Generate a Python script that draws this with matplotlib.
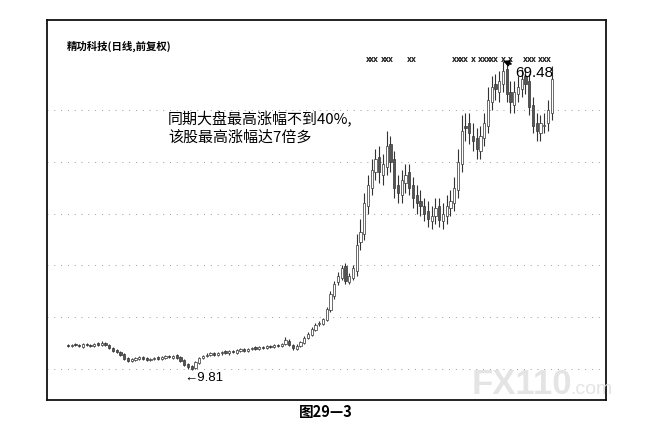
import matplotlib
matplotlib.use("Agg")
import matplotlib.pyplot as plt
import matplotlib.transforms as mtransforms
import numpy as np

# ---------------- data ----------------
opens = [
    14.7, 14.4, 14.8, 14.7, 14.3, 14.9, 14.7, 14.4, 15.0, 14.6,
    15.0, 14.6, 14.1, 13.6, 13.3, 12.9, 12.2, 11.5, 11.8, 12.0,
    12.4, 12.1, 11.7, 11.9, 12.3, 11.9, 12.2, 12.6, 12.2, 12.7,
    12.3, 11.7, 10.9, 10.5, 10.2, 11.2, 12.1, 12.5, 12.7, 13.1,
    12.7, 13.0, 13.4, 13.0, 13.5, 13.1, 13.5, 13.9, 13.4, 13.8,
    14.2, 13.8, 14.3, 14.0, 14.5, 14.2, 14.7, 14.4, 14.8, 15.5,
    14.7, 13.9, 14.4, 15.1, 15.9, 16.6, 17.6, 18.7, 18.7, 19.4,
    21.3, 24.0, 26.8, 27.5, 29.8, 26.8, 27.6, 29.0, 34.5, 36.0,
    41.5, 45.0, 48.0, 51.0, 47.5, 49.0, 53.5, 50.5, 45.5, 43.5,
    46.0, 48.0, 45.5, 43.5, 42.5, 41.5, 40.5, 38.5, 39.5, 41.5,
    38.5, 39.5, 41.0, 42.0, 44.5, 49.5, 57.0, 57.5, 55.0, 54.5,
    52.0, 54.5, 57.0, 61.5, 65.0, 63.5, 65.0, 68.0, 63.5, 61.0,
    63.0, 64.0, 66.5, 65.5, 61.0, 57.5, 55.5, 57.0, 57.5, 59.5]
highs = [
    14.9, 14.9, 15.0, 14.9, 15.0, 15.1, 14.9, 15.1, 15.2, 15.4,
    15.2, 14.8, 14.3, 13.8, 13.5, 13.1, 12.4, 12.1, 12.3, 12.5,
    12.6, 12.3, 12.2, 12.4, 12.5, 12.5, 12.7, 12.8, 12.8, 12.9,
    12.5, 11.9, 11.1, 10.7, 11.6, 12.4, 12.8, 13.0, 13.2, 13.3,
    13.3, 13.5, 13.6, 13.6, 13.7, 13.8, 14.0, 14.1, 14.1, 14.3,
    14.4, 14.4, 14.5, 14.6, 14.7, 14.8, 14.9, 15.1, 16.2, 15.7,
    14.9, 14.8, 15.4, 16.3, 17.1, 18.1, 18.8, 19.3, 19.9, 22.0,
    25.0, 27.0, 28.8, 30.0, 30.5, 28.6, 30.0, 36.0, 39.0, 44.0,
    47.5, 50.5, 52.5, 53.0, 51.5, 56.0, 55.0, 52.0, 47.5, 48.5,
    49.5, 49.5, 47.0, 45.5, 44.5, 43.0, 42.5, 41.5, 43.0, 43.0,
    42.0, 43.5, 44.5, 47.0, 52.5, 59.0, 59.5, 59.5, 57.5, 56.5,
    57.0, 59.5, 64.5, 66.5, 67.0, 67.5, 69.48, 69.0, 65.5, 65.5,
    66.5, 68.0, 68.0, 67.0, 62.5, 59.5, 59.0, 59.5, 62.0, 68.5]
lows = [
    14.3, 14.2, 14.4, 14.2, 14.1, 14.4, 14.3, 14.2, 14.5, 14.4,
    14.4, 13.8, 13.3, 13.0, 12.6, 11.8, 11.3, 11.3, 11.6, 11.8,
    11.8, 11.6, 11.5, 11.7, 11.8, 11.7, 12.0, 12.1, 12.0, 12.0,
    11.4, 10.6, 10.1, 9.81, 10.0, 11.0, 11.9, 12.3, 12.5, 12.6,
    12.5, 12.8, 12.9, 12.8, 13.0, 12.9, 13.3, 13.3, 13.2, 13.6,
    13.7, 13.6, 13.9, 13.8, 14.1, 14.0, 14.3, 14.2, 14.6, 14.4,
    13.6, 13.7, 14.2, 14.9, 15.7, 16.4, 17.4, 18.4, 18.5, 19.2,
    21.0, 23.6, 26.3, 27.2, 26.4, 26.5, 27.2, 28.0, 33.0, 35.0,
    40.0, 43.5, 46.5, 46.0, 45.5, 47.5, 48.0, 43.0, 42.0, 42.0,
    44.0, 43.5, 41.0, 40.0, 39.5, 38.5, 37.5, 37.0, 38.0, 37.5,
    37.0, 38.0, 39.5, 40.5, 43.0, 48.0, 54.0, 53.5, 52.0, 50.5,
    50.5, 53.0, 55.5, 60.0, 62.0, 61.5, 63.5, 61.5, 59.5, 59.5,
    61.5, 62.5, 63.0, 59.0, 55.5, 54.0, 54.0, 55.5, 56.0, 58.0]
closes = [
    14.5, 14.7, 14.6, 14.4, 14.8, 14.6, 14.5, 14.9, 14.7, 15.1,
    14.6, 14.0, 13.5, 13.2, 12.8, 12.0, 11.6, 11.9, 12.1, 12.3,
    12.0, 11.8, 12.0, 12.2, 12.0, 12.3, 12.5, 12.3, 12.6, 12.2,
    11.6, 10.8, 10.3, 10.1, 11.3, 12.2, 12.6, 12.8, 13.0, 12.8,
    13.1, 13.3, 13.1, 13.4, 13.2, 13.6, 13.8, 13.5, 13.9, 14.1,
    13.9, 14.2, 14.1, 14.4, 14.3, 14.6, 14.5, 14.9, 15.6, 14.6,
    14.0, 14.5, 15.2, 16.0, 16.8, 17.8, 18.5, 18.9, 19.6, 21.5,
    24.5, 26.5, 28.0, 29.5, 27.0, 28.0, 29.5, 34.0, 36.5, 42.0,
    45.5, 48.5, 50.5, 48.0, 49.5, 53.0, 50.0, 45.0, 44.0, 46.5,
    47.5, 45.0, 43.0, 42.0, 41.5, 40.0, 39.0, 39.5, 41.0, 38.8,
    40.0, 41.5, 42.5, 45.0, 50.0, 56.0, 56.5, 55.5, 54.0, 52.5,
    55.0, 57.5, 62.0, 64.5, 64.0, 65.5, 67.5, 63.0, 61.5, 63.5,
    64.5, 66.0, 65.0, 60.5, 57.0, 56.0, 57.5, 57.0, 60.0, 66.0]

grid_levels = [10, 20, 30, 40, 50, 60]
marker_days = [80, 81, 82, 84, 85, 86, 91, 92, 103, 104, 105, 106, 108,
               110, 111, 112, 113, 114, 116, 118, 122, 123, 124, 126, 127, 128]
high_label = "69.48"
low_label = "←9.81"
title = "精功科技(日线,前复权)"
note_lines = ["同期大盘最高涨幅不到40%,", "该股最高涨幅达7倍多"]
caption = "图29—3"

# ---------------- figure ----------------
W, H = 652, 432
fig = plt.figure(figsize=(W / 100, H / 100), dpi=100)
fig.patch.set_facecolor("white")
ax = fig.add_axes([47 / W, (H - 400) / H, (606 - 47) / W, 380 / H])
ax.set_xlim(-5.6, 143.5)
ax.set_ylim(4.02, 77.37)
ax.set_xticks([])
ax.set_yticks([])
for s in ax.spines.values():
    s.set_linewidth(1.3)
    s.set_color("#111111")

# dotted grid
for g in grid_levels:
    ax.axhline(g, color="#999999", lw=0.7, ls=(0, (1, 6)), zorder=0)

x = np.arange(len(closes))
o = np.array(opens); c = np.array(closes)
h = np.array(highs); l = np.array(lows)
up = c >= o
ax.vlines(x, l, h, color="#333333", lw=0.8, zorder=2)
body = np.where(np.abs(c - o) < 0.05, 0.05, c - o)
ax.bar(x[up], body[up], bottom=o[up], width=0.6, facecolor="white",
       edgecolor="#333333", linewidth=0.5, zorder=3)
ax.bar(x[~up], body[~up], bottom=o[~up], width=0.6, facecolor="#555555",
       edgecolor="#333333", linewidth=0.5, zorder=3)

# info markers along the top
trans = mtransforms.blended_transform_factory(ax.transData, ax.transAxes)
for d in marker_days:
    ax.text(d, 0.895, "x", transform=trans, ha="center", va="center",
            fontsize=5.5, fontweight="bold", color="#222222")

narrow = ["Liberation Sans Narrow", "Liberation Sans", "DejaVu Sans"]

# high / low labels
imax = int(np.argmax(h))
ax.annotate(high_label, xy=(imax, h[imax]), xytext=(imax + 3.2, h[imax] - 2.3),
            fontsize=11, family=narrow, ha="left", va="center",
            arrowprops=dict(arrowstyle="-|>", lw=1.4, color="black",
                            mutation_scale=8, shrinkA=1, shrinkB=0))
imin = int(np.argmin(l))
ax.text(imin - 2.0, l[imin] - 1.5, low_label, fontsize=9.5, family=narrow,
        ha="left", va="center")

# texts
fig.text(67 / W, 1 - 46 / H, title, fontsize=7.5, fontweight="bold",
         family=["Noto Sans CJK SC", "DejaVu Sans"], ha="left", va="center")
fig.text(168 / W, 1 - 118 / H, note_lines[0], fontsize=10.8,
         family=["Noto Sans CJK SC", "DejaVu Sans"], ha="left", va="center")
fig.text(168 / W, 1 - 138 / H, note_lines[1], fontsize=10.8,
         family=["Noto Sans CJK SC", "DejaVu Sans"], ha="left", va="center")
fig.text(326 / W, 1 - 412 / H, caption, fontsize=10.5, fontweight="bold",
         family=["Noto Sans CJK SC", "DejaVu Sans"], ha="center", va="center")

# watermark
fig.text(472 / W, 1 - 384 / H, "FX110", fontsize=25, fontweight="bold",
         family=["Liberation Sans", "DejaVu Sans"], color="#e4e4e4",
         ha="left", va="center", zorder=0)
fig.text(570 / W, 1 - 389 / H, ".com", fontsize=14,
         family=["Liberation Sans", "DejaVu Sans"], color="#e4e4e4",
         ha="left", va="center", zorder=0)

fig.savefig("out.png", dpi=100, facecolor="white")
